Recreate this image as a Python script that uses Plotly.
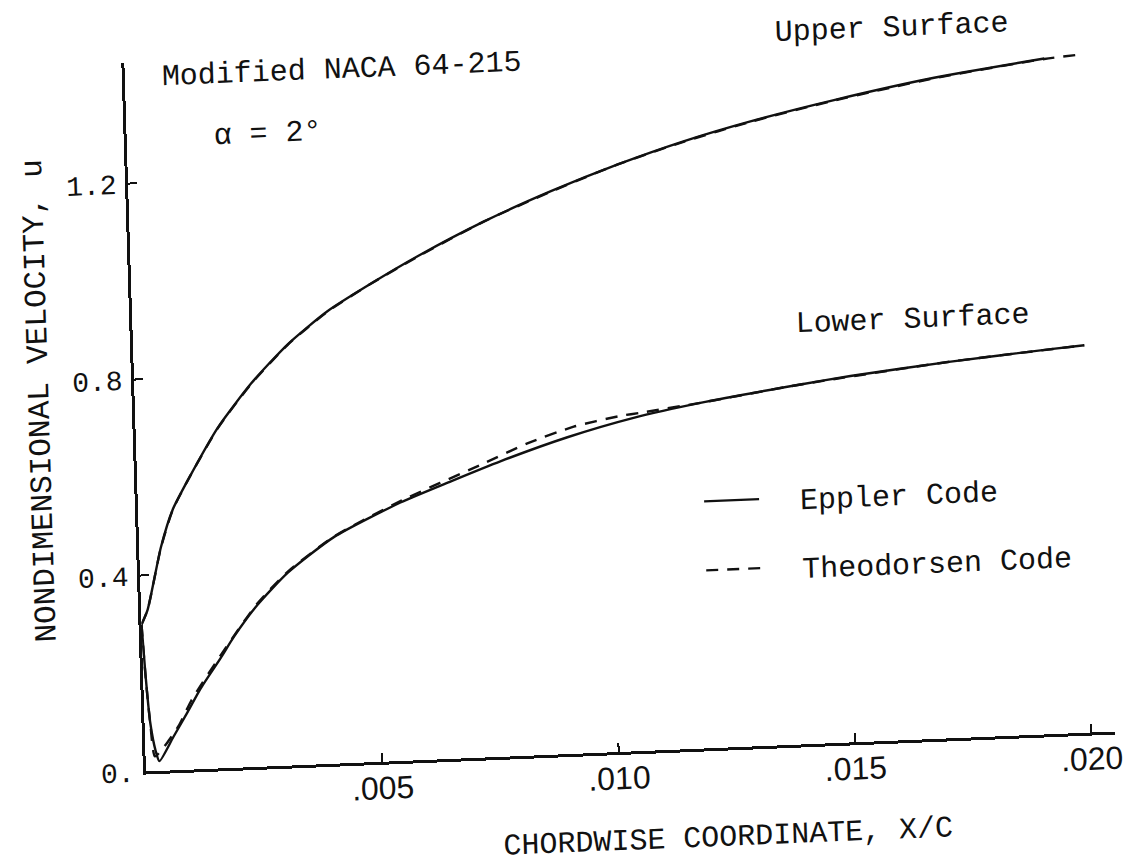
import plotly.graph_objects as go

# Chordwise stations (X/C) and nondimensional surface velocity u
# Eppler code, upper surface
x_up_eppler = [0.0, 0.00014, 0.00046, 0.00073, 0.00107, 0.00174, 0.00247, 0.00327,
               0.00413, 0.0050, 0.00608, 0.0075, 0.00893, 0.01036, 0.01178, 0.01321,
               0.01497, 0.0171, 0.01944]
u_up_eppler = [0.30, 0.33, 0.456, 0.531, 0.590, 0.695, 0.782, 0.859,
               0.923, 0.972, 1.028, 1.093, 1.149, 1.198, 1.240, 1.275,
               1.311, 1.348, 1.378]

# Eppler code, lower surface
x_lo_eppler = [0.0, 0.00005, 0.00012, 0.00022, 0.00029, 0.00060, 0.00092, 0.00121,
               0.00165, 0.00195, 0.00246, 0.00312, 0.00412, 0.00555, 0.00663, 0.0077,
               0.00912, 0.01053, 0.01195, 0.01408, 0.01514, 0.01727, 0.01939, 0.0201]
u_lo_eppler = [0.30, 0.20, 0.10, 0.04, 0.02, 0.068, 0.118, 0.165,
               0.225, 0.268, 0.330, 0.393, 0.462, 0.527, 0.566, 0.603,
               0.646, 0.680, 0.705, 0.734, 0.747, 0.768, 0.785, 0.790]

# Theodorsen code, upper surface
x_up_theo = [0.0, 0.00014, 0.00046, 0.00073, 0.00107, 0.00174, 0.00247, 0.00327,
             0.00413, 0.0050, 0.00608, 0.0075, 0.00893, 0.01036, 0.01178, 0.01321,
             0.01497, 0.0171, 0.01944, 0.0202]
u_up_theo = [0.30, 0.33, 0.455, 0.530, 0.590, 0.694, 0.781, 0.858,
             0.922, 0.972, 1.027, 1.093, 1.148, 1.198, 1.239, 1.274,
             1.310, 1.347, 1.377, 1.383]

# Theodorsen code, lower surface
x_lo_theo = [0.0, 0.00006, 0.00012, 0.00020, 0.00045, 0.00073, 0.00101, 0.00173,
             0.00246, 0.00312, 0.00412, 0.00555, 0.00727, 0.00827, 0.00926, 0.01025,
             0.0107, 0.01195, 0.01408, 0.01727, 0.0201]
u_lo_theo = [0.30, 0.18, 0.10, 0.03, 0.055, 0.092, 0.142, 0.241,
             0.333, 0.395, 0.463, 0.530, 0.597, 0.637, 0.667, 0.685,
             0.690, 0.705, 0.734, 0.768, 0.790]

# Axis ticks
x_ticks = [0.005, 0.010, 0.015, 0.020]
x_tick_text = [".005", ".010", ".015", ".020"]
y_ticks = [0.0, 0.4, 0.8, 1.2]
y_tick_text = ["0.", "0.4", "0.8", "1.2"]

X_MAX = 0.020504
Y_MAX = 1.4465

TYPE = "Liberation Mono"
INK = "#111111"
NB = "\u00a0"
DASH = "12px,9px"
SMOOTH = dict(shape="spline", smoothing=0.6)

fig = go.Figure()

fig.add_trace(go.Scatter(x=x_up_eppler, y=u_up_eppler, mode="lines",
                         name=NB * 2 + "Eppler Code", legendgroup="eppler",
                         line=dict(color=INK, width=2.4, **SMOOTH)))
fig.add_trace(go.Scatter(x=x_lo_eppler, y=u_lo_eppler, mode="lines",
                         name="Eppler Code", legendgroup="eppler", showlegend=False,
                         line=dict(color=INK, width=2.4, **SMOOTH)))
fig.add_trace(go.Scatter(x=x_up_theo, y=u_up_theo, mode="lines",
                         name=NB * 2 + "Theodorsen Code", legendgroup="theo",
                         line=dict(color=INK, width=2.4, dash=DASH, **SMOOTH)))
fig.add_trace(go.Scatter(x=x_lo_theo, y=u_lo_theo, mode="lines",
                         name="Theodorsen Code", legendgroup="theo", showlegend=False,
                         line=dict(color=INK, width=2.4, dash=DASH, **SMOOTH)))

axis_common = dict(showline=True, linewidth=3, linecolor=INK, ticks="inside",
                   ticklen=9, tickwidth=2, tickcolor=INK, showgrid=False,
                   zeroline=False, mirror=False)

fig.update_xaxes(range=[0, X_MAX], tickvals=x_ticks, ticktext=x_tick_text,
                 tickfont=dict(family="Liberation Sans", size=32, color=INK),
                 ticklabelstandoff=-4, **axis_common)
fig.update_yaxes(range=[0, Y_MAX], tickvals=y_ticks, ticktext=y_tick_text,
                 tickfont=dict(family=TYPE, size=28, color=INK),
                 ticklabelstandoff=3, **axis_common)

# Labels placed at chart coordinates (X/C, u), given in paper fractions of the axes
notes = [
    dict(x=0.000746, y=1.414, text="Modified NACA 64-215", xanchor="left"),
    dict(x=0.001805, y=1.290, text="α = 2°", xanchor="left"),
    dict(x=0.01624, y=1.452, text="Upper Surface", xanchor="center"),
    dict(x=0.01648, y=0.857, text="Lower Surface", xanchor="center"),
]
for n in notes:
    fig.add_annotation(x=n["x"] / X_MAX, y=n["y"] / Y_MAX, text=n["text"],
                       xref="paper", yref="paper",
                       xanchor=n["xanchor"], yanchor="middle", showarrow=False,
                       font=dict(family=TYPE, size=30, color=INK))

# Axis titles
fig.add_annotation(x=0.5978, y=-0.1274, xref="paper", yref="paper",
                   text="CHORDWISE COORDINATE, X/C", showarrow=False,
                   xanchor="center", yanchor="middle",
                   font=dict(family=TYPE, size=30, color=INK))
fig.add_annotation(x=-0.0975, y=0.5294, xref="paper", yref="paper",
                   text="NONDIMENSIONAL VELOCITY, u", showarrow=False, textangle=-90,
                   xanchor="center", yanchor="middle",
                   font=dict(family=TYPE, size=31, color=INK))

fig.update_layout(
    width=1130, height=864, autosize=False,
    margin=dict(l=134, r=26, t=36, b=119),
    paper_bgcolor="white", plot_bgcolor="white",
    showlegend=True,
    legend=dict(x=0.5785, y=0.2996, xanchor="left", yanchor="middle",
                bgcolor="rgba(0,0,0,0)", borderwidth=0,
                traceorder="grouped", tracegroupgap=27, itemwidth=55,
                font=dict(family=TYPE, size=30, color=INK)),
)

# The sheet sits slightly askew on the page: tilt it about the axis origin
post = ("var gd=document.getElementById('{plot_id}');"
        "document.body.style.margin='0';"
        "gd.style.transformOrigin='134px 745px';"
        "gd.style.transform='matrix(0.99915,-0.04118,0.03054,0.99953,12,26.5)';")
fig.write_html("out.html", post_script=post, config={"displayModeBar": False})
